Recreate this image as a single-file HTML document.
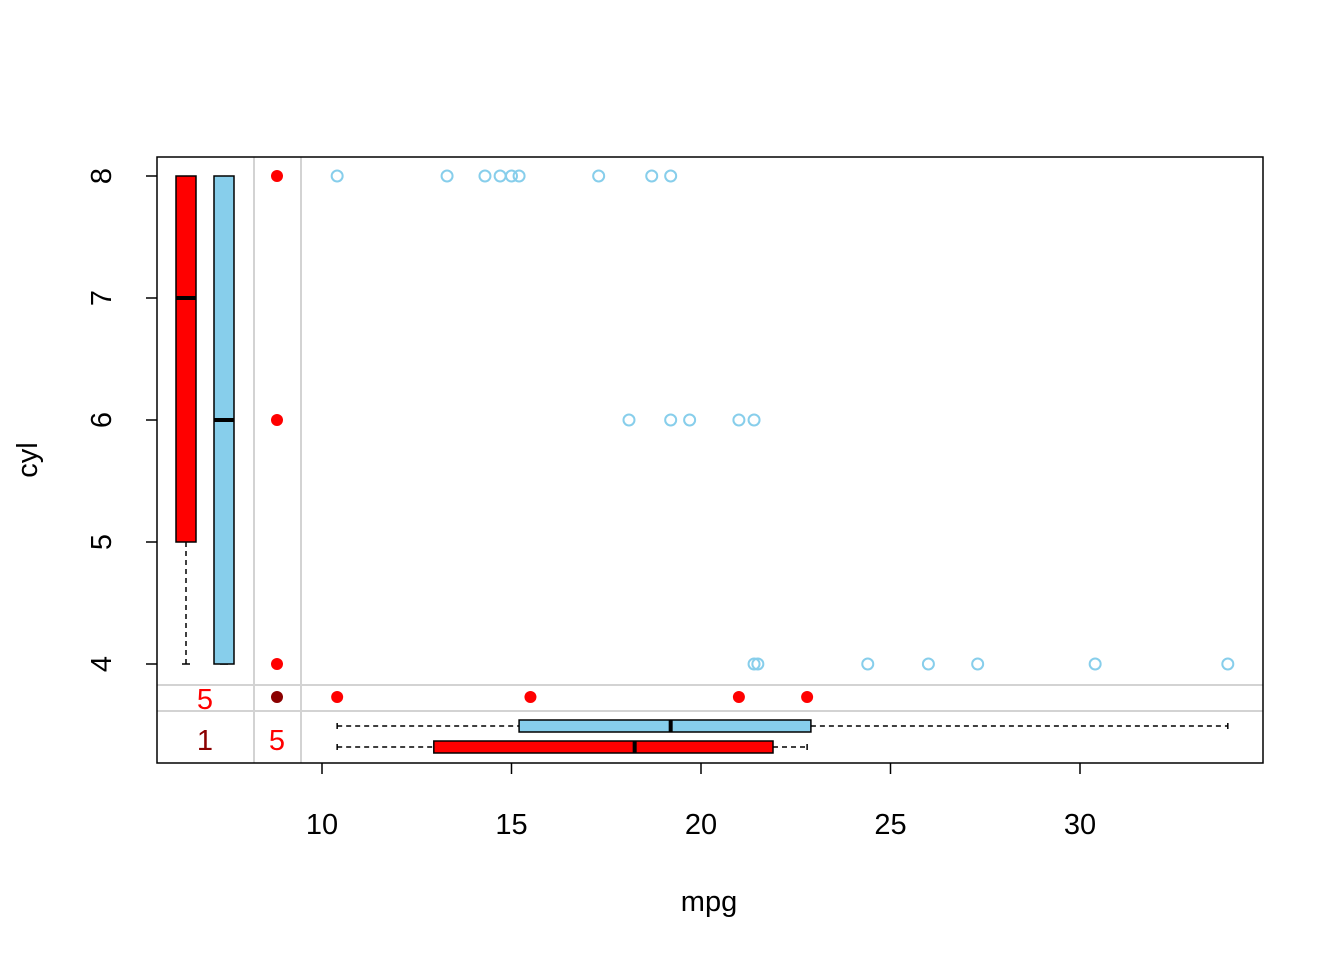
<!DOCTYPE html>
<html><head><meta charset="utf-8"><style>
body{margin:0;background:#fff}
svg{display:block;font-family:"Liberation Sans",Arial,sans-serif}
</style></head><body>
<svg id="chart" width="1344" height="960">
<g id="g"></g>
</svg>
<script>
const xTicks=[10,15,20,25,30];
const yTicks=[4,5,6,7,8];
const obsMpg=[10.4,13.3,14.3,14.7,15.0,15.2,17.3,18.7,19.2, 18.1,19.2,19.7,21.0,21.4, 21.4,21.5,24.4,26.0,27.3,30.4,33.9];
const obsCyl=[8,8,8,8,8,8,8,8,8, 6,6,6,6,6, 4,4,4,4,4,4,4];
const cylMissingMpg=[8,6,4];
const mpgWithCylMissing=[10.4,15.5,21.0,22.8];
const mpgBoxBlue=[10.4,15.2,19.2,22.9,33.9];
const mpgBoxRed=[10.4,12.95,18.25,21.9,22.8];
const cylBoxRed=[4,5,7,8,8];
const cylBoxBlue=[4,4,6,8,8];
const missCounts=["5","1","5"];

const X=v=>322+(v-10)*37.9;
const Y=v=>664-(v-4)*122;
const g=document.getElementById('g');
const NS='http://www.w3.org/2000/svg';
function el(t,a,name,txt){const e=document.createElementNS(NS,t);for(const k in a)e.setAttribute(k,a[k]);


if(txt!==undefined)e.textContent=txt;g.appendChild(e);return e;}
el('line',{x1:254,x2:254,y1:157,y2:763,stroke:'#d3d3d3','stroke-width':2},'separator-v1');
el('line',{x1:301,x2:301,y1:157,y2:763,stroke:'#d3d3d3','stroke-width':2},'separator-v2');
el('line',{x1:157,x2:1263,y1:685,y2:685,stroke:'#d3d3d3','stroke-width':2},'separator-h1');
el('line',{x1:157,x2:1263,y1:711,y2:711,stroke:'#d3d3d3','stroke-width':2},'separator-h2');
xTicks.forEach(t=>{el('line',{x1:X(t),x2:X(t),y1:763,y2:774,stroke:'#000','stroke-width':1.5},'x-tick');
el('text',{x:X(t),y:834,'font-size':29,'text-anchor':'middle'},'x-tick-label',t);});
yTicks.forEach(t=>{el('line',{x1:146,x2:157,y1:Y(t),y2:Y(t),stroke:'#000','stroke-width':1.5},'y-tick');
el('text',{x:111,y:Y(t),'font-size':29,'text-anchor':'middle',transform:`rotate(-90 111 ${Y(t)})`},'y-tick-label',t);});
el('text',{x:709,y:911,'font-size':29,'text-anchor':'middle'},'x-axis-title','mpg');
el('text',{x:37,y:460,'font-size':29,'text-anchor':'middle',transform:'rotate(-90 37 460)'},'y-axis-title','cyl');
function vbox(cx,s,fill,name){const w=10;
el('line',{x1:cx,x2:cx,y1:Y(s[0]),y2:Y(s[1]),stroke:'#000','stroke-dasharray':'5,4','stroke-width':1.5},name+'-whisker');
el('line',{x1:cx,x2:cx,y1:Y(s[3]),y2:Y(s[4]),stroke:'#000','stroke-dasharray':'5,4','stroke-width':1.5},name+'-whisker');
el('line',{x1:cx-4,x2:cx+4,y1:Y(s[0]),y2:Y(s[0]),stroke:'#000','stroke-width':1.5},name+'-cap');
el('rect',{x:cx-w,y:Y(s[3]),width:2*w,height:Y(s[1])-Y(s[3]),fill:fill,stroke:'#000','stroke-width':1.5},name+'-box');
el('line',{x1:cx-w,x2:cx+w,y1:Y(s[2]),y2:Y(s[2]),stroke:'#000','stroke-width':4},name+'-median');}
vbox(186,cylBoxRed,'#ff0000','cyl-box-missing-mpg');
vbox(224,cylBoxBlue,'#87ceeb','cyl-box-observed');
function hbox(cy,s,fill,name){const h=6;
el('line',{x1:X(s[0]),x2:X(s[1]),y1:cy,y2:cy,stroke:'#000','stroke-dasharray':'5,4','stroke-width':1.5},name+'-whisker');
el('line',{x1:X(s[3]),x2:X(s[4]),y1:cy,y2:cy,stroke:'#000','stroke-dasharray':'5,4','stroke-width':1.5},name+'-whisker');
el('line',{x1:X(s[0]),x2:X(s[0]),y1:cy-3,y2:cy+3,stroke:'#000','stroke-width':1.5},name+'-cap');
el('line',{x1:X(s[4]),x2:X(s[4]),y1:cy-3,y2:cy+3,stroke:'#000','stroke-width':1.5},name+'-cap');
el('rect',{x:X(s[1]),y:cy-h,width:X(s[3])-X(s[1]),height:2*h,fill:fill,stroke:'#000','stroke-width':1.5},name+'-box');
el('line',{x1:X(s[2]),x2:X(s[2]),y1:cy-h,y2:cy+h,stroke:'#000','stroke-width':4},name+'-median');}
hbox(726,mpgBoxBlue,'#87ceeb','mpg-box-observed');
hbox(747,mpgBoxRed,'#ff0000','mpg-box-missing-cyl');
obsMpg.forEach((m,i)=>el('circle',{cx:X(m),cy:Y(obsCyl[i]),r:5.5,fill:'none',stroke:'#87ceeb','stroke-width':2},'observed-point'));
cylMissingMpg.forEach(c=>el('circle',{cx:277,cy:Y(c),r:6,fill:'#ff0000'},'missing-mpg-point'));
mpgWithCylMissing.forEach(m=>el('circle',{cx:X(m),cy:697,r:6,fill:'#ff0000'},'missing-cyl-point'));
el('circle',{cx:277,cy:697,r:6,fill:'#8b0000'},'both-missing-point');
el('text',{x:205,y:709,'font-size':29,'text-anchor':'middle',fill:'#ff0000'},'count-missing-cyl',missCounts[0]);
el('text',{x:205,y:750,'font-size':29,'text-anchor':'middle',fill:'#8b0000'},'count-both-missing',missCounts[1]);
el('text',{x:277,y:750,'font-size':29,'text-anchor':'middle',fill:'#ff0000'},'count-missing-mpg',missCounts[2]);
el('rect',{x:157,y:157,width:1106,height:606,fill:'none',stroke:'#000','stroke-width':1.5},'plot-frame');
</script>
</body></html>
